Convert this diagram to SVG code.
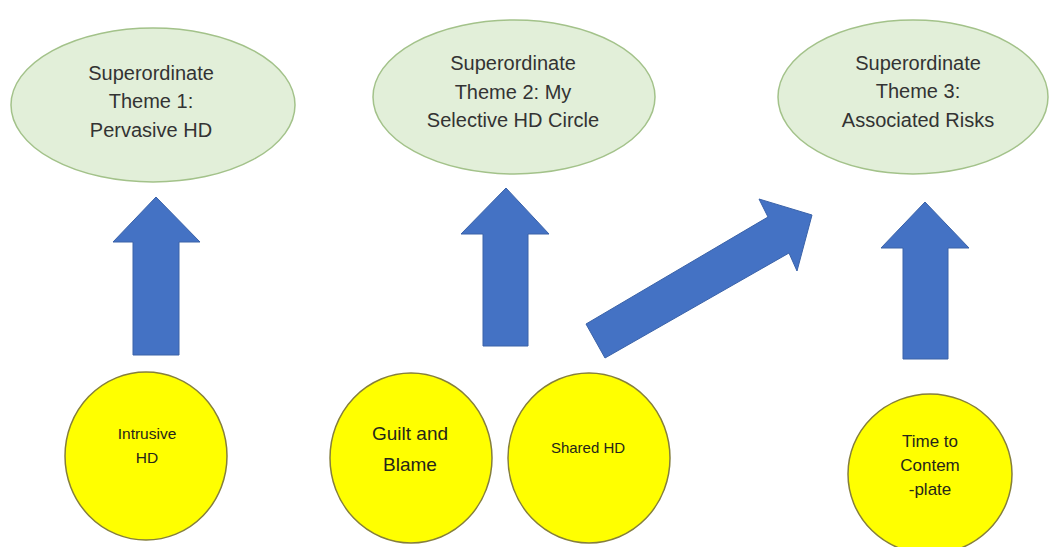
<svg xmlns="http://www.w3.org/2000/svg" width="1050" height="547" viewBox="0 0 1050 547">
  <style>
    .theme ellipse { fill: #e2efd9; stroke: #a3c28a; stroke-width: 1.5; }
    .theme text { font-family: "Liberation Sans", Arial, sans-serif; font-size: 20px; fill: #333333; text-anchor: middle; }
    .sub ellipse { fill: #ffff00; stroke: #857f3c; stroke-width: 1.5; }
    .sub text { font-family: "Liberation Sans", Arial, sans-serif; fill: #26261a; text-anchor: middle; }
    .arrow { fill: #4472c4; stroke: #3a62a8; stroke-width: 1; }
  </style>

  <!-- superordinate themes -->
  <g id="theme1" class="theme">
    <ellipse cx="153" cy="105" rx="142" ry="77"/>
    <text x="151" y="80">Superordinate</text>
    <text x="151" y="108">Theme 1:</text>
    <text x="151" y="137">Pervasive HD</text>
  </g>
  <g id="theme2" class="theme">
    <ellipse cx="514" cy="97" rx="141" ry="77"/>
    <text x="513" y="70">Superordinate</text>
    <text x="513" y="99">Theme 2: My</text>
    <text x="513" y="127">Selective HD Circle</text>
  </g>
  <g id="theme3" class="theme">
    <ellipse cx="913" cy="97" rx="135" ry="77"/>
    <text x="918" y="70">Superordinate</text>
    <text x="918" y="98">Theme 3:</text>
    <text x="918" y="127">Associated Risks</text>
  </g>

  <!-- block arrows -->
  <g id="connectors">
    <polygon class="arrow" points="156,197 200,242 179,242 179,355 133,355 133,242 113,242"/>
    <polygon class="arrow" points="506,188 549,234 528,234 528,346 483,346 483,234 461,234"/>
    <polygon class="arrow" points="925,202 969,248 948,248 948,359 903,359 903,248 881,248"/>
    <polygon class="arrow" points="586,324 768,217 759,199 812,215 797,271 789,253 605,358"/>
  </g>

  <!-- subordinate themes -->
  <g id="intrusive" class="sub">
    <ellipse cx="146" cy="456" rx="81" ry="84"/>
    <text x="147" y="439" font-size="15.5">Intrusive</text>
    <text x="147" y="463" font-size="15.5">HD</text>
  </g>
  <g id="guilt" class="sub">
    <ellipse cx="411" cy="458" rx="81" ry="85"/>
    <text x="410" y="440" font-size="19">Guilt and</text>
    <text x="410" y="471" font-size="19">Blame</text>
  </g>
  <g id="shared" class="sub">
    <ellipse cx="589" cy="458" rx="81" ry="85"/>
    <text x="588" y="453" font-size="15">Shared HD</text>
  </g>
  <g id="time" class="sub">
    <ellipse cx="930" cy="474" rx="82" ry="80"/>
    <text x="930" y="447" font-size="17">Time to</text>
    <text x="930" y="471" font-size="17">Contem</text>
    <text x="930" y="495" font-size="17">-plate</text>
  </g>
</svg>
